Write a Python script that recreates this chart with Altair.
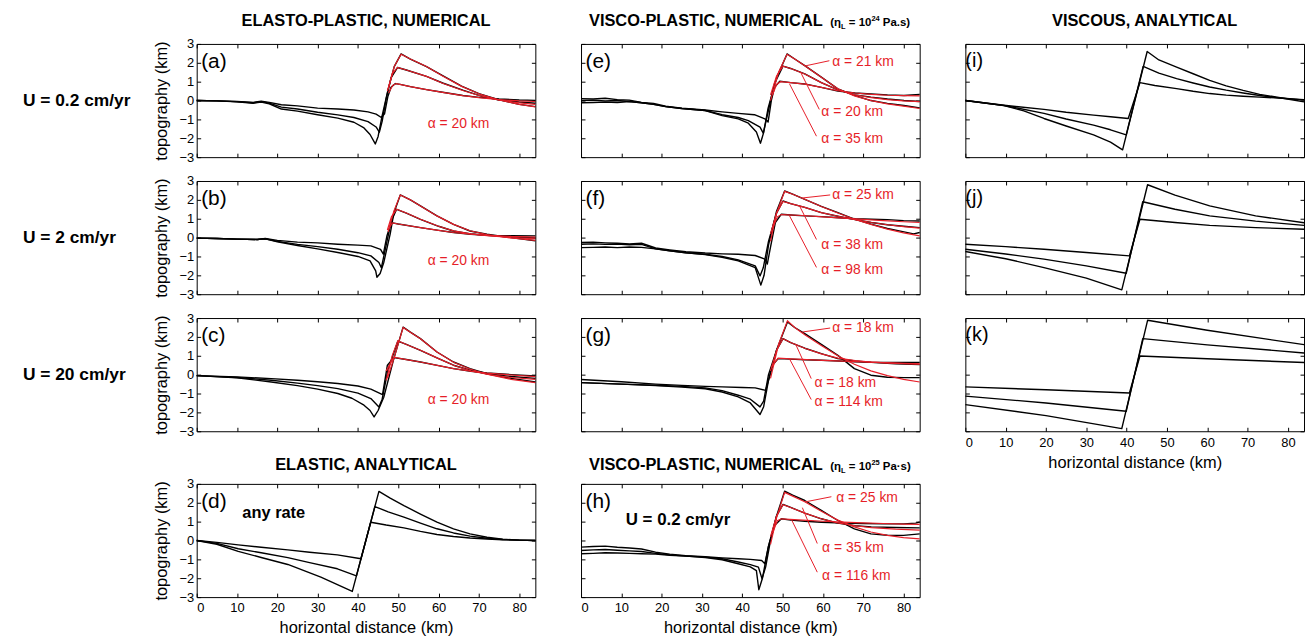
import altair as alt
import pandas as pd

FONT = "Liberation Sans"
RED = "#e61e28"
W, H = 341, 114
XMAX = 84
X_TICKS = [0, 10, 20, 30, 40, 50, 60, 70, 80]
Y_TICKS = [-3, -2, -1, 0, 1, 2, 3]
X_TITLE = "horizontal distance (km)"
Y_TITLE = "topography (km)"

ROW_LABELS = ["U = 0.2 cm/yr", "U = 2 cm/yr", "U = 20 cm/yr"]
TOP_TITLES = ["ELASTO-PLASTIC, NUMERICAL", "VISCO-PLASTIC, NUMERICAL", "VISCOUS, ANALYTICAL"]
LOW_TITLES = ["ELASTIC, ANALYTICAL", "VISCO-PLASTIC, NUMERICAL"]
ETA_E = ["(η", "L", "= 10", "24", "Pa.s)"]
ETA_H = ["(η", "L", "= 10", "25", "Pa·s)"]

# ---------------- panel (a) ----------------
A_X = [
    [0, 5, 10, 14, 16, 18, 21, 25, 30, 35, 39, 42.5, 44.5, 45.8, 46.6, 47.4, 48.2, 49.3, 50.5, 53, 57, 61, 66, 70, 75, 80, 84],
    [0, 5, 10, 14, 16, 18, 21, 25, 30, 35, 39, 42.5, 44.5, 45.3, 46, 47, 48.2, 49.8, 52, 57, 61, 66, 70, 75, 80, 84],
    [0, 5, 10, 14, 16, 18, 21, 25, 30, 35, 39, 41.5, 43, 44.3, 45, 46, 47.5, 49, 50.7, 53, 57, 61, 65.7, 70, 74.5, 80, 84]]
A_Y = [
    [0, -0.02, -0.05, -0.1, -0.04, -0.1, -0.22, -0.28, -0.4, -0.45, -0.5, -0.6, -0.72, -0.9, -0.7, 0.2, 0.7, 0.9, 0.86, 0.74, 0.58, 0.44, 0.27, 0.17, 0.08, 0.03, 0.01],
    [0, -0.02, -0.06, -0.12, -0.06, -0.14, -0.35, -0.45, -0.62, -0.76, -0.9, -1.12, -1.4, -1.68, -1.1, 0.1, 1.2, 1.75, 1.62, 1.28, 0.93, 0.55, 0.27, 0.03, -0.08, -0.14],
    [0, -0.02, -0.07, -0.14, -0.08, -0.17, -0.45, -0.56, -0.75, -0.93, -1.15, -1.45, -1.8, -2.3, -1.9, -0.8, 0.6, 1.8, 2.47, 2.2, 1.8, 1.32, 0.77, 0.37, 0.07, -0.2, -0.32]]
A_RX = [[47.6, 48.6, 49.5, 53, 57, 61, 66, 70, 75, 80, 84],
        [47.3, 48.5, 49.8, 52, 57, 61, 66, 70, 75, 80, 84],
        [47.5, 49, 50.7, 53, 57, 61, 65.7, 70, 74.5, 80, 84]]
A_RY = [[0.4, 0.8, 0.9, 0.74, 0.58, 0.43, 0.26, 0.15, 0.05, -0.02, -0.05],
        [0.5, 1.4, 1.76, 1.62, 1.28, 0.92, 0.53, 0.27, 0.03, -0.12, -0.2],
        [0.6, 1.8, 2.45, 2.2, 1.8, 1.3, 0.75, 0.36, 0.06, -0.2, -0.34]]

# ---------------- panel (b) ----------------
B_X = [
    [0, 5, 10, 15, 17, 20, 25, 30, 35, 40, 43.2, 45.6, 46.3, 47.2, 48.1, 48.6, 50, 55.5, 60, 63.7, 68, 72, 78, 84],
    [0, 5, 10, 15, 17, 20, 25, 30, 35, 40, 43.2, 45.2, 45.8, 47, 48.3, 49.6, 52, 55.5, 60, 63.7, 68, 72, 78, 84],
    [0, 5, 10, 15, 17, 20, 25, 30, 35, 40, 43, 44.4, 44.7, 45.5, 46.4, 48, 48.9, 50.5, 53, 55.5, 59.6, 63.7, 67.8, 72, 78, 84]]
B_Y = [
    [-0.03, -0.05, -0.08, -0.1, -0.05, -0.15, -0.24, -0.28, -0.35, -0.4, -0.44, -0.62, -0.88, 0.1, 0.7, 0.78, 0.72, 0.53, 0.38, 0.27, 0.18, 0.12, 0.1, 0.09],
    [-0.03, -0.05, -0.08, -0.1, -0.06, -0.2, -0.36, -0.48, -0.62, -0.8, -0.97, -1.32, -1.6, -0.4, 0.9, 1.5, 1.3, 0.97, 0.6, 0.35, 0.2, 0.12, 0.04, -0.02],
    [-0.03, -0.05, -0.08, -0.1, -0.07, -0.22, -0.42, -0.6, -0.79, -1.0, -1.23, -1.76, -2.1, -1.9, -1.32, 0.2, 1.3, 2.26, 2.0, 1.68, 1.15, 0.7, 0.35, 0.18, 0.0, -0.17]]
B_RX = [[47.5, 48.5, 50, 55.5, 60, 63.7, 68, 72, 78, 84],
        [47.3, 48.3, 49.6, 52, 55.5, 60, 63.7, 68, 72, 78, 84],
        [47.5, 48.9, 50.5, 53, 55.5, 59.6, 63.7, 67.8, 72, 78, 84]]
B_RY = [[0.4, 0.78, 0.72, 0.53, 0.38, 0.27, 0.18, 0.12, 0.06, 0.03],
        [0.4, 1.1, 1.5, 1.3, 0.97, 0.6, 0.36, 0.2, 0.1, 0.0, -0.06],
        [0.3, 1.4, 2.26, 2.0, 1.68, 1.15, 0.7, 0.36, 0.16, -0.02, -0.15]]

# ---------------- panel (c) ----------------
C_X = [
    [0, 10, 18.5, 25, 30, 35, 40, 43.2, 46.1, 47.3, 48.9, 52, 55.5, 60, 63.7, 68, 72, 78, 84],
    [0, 10, 18.5, 25, 30, 35, 40, 43.2, 45.2, 46, 47.5, 49.9, 52, 55.5, 60, 63.7, 68, 72, 78, 84],
    [0, 10, 18.5, 25, 30, 35, 38.5, 41.5, 43, 44, 45, 46.4, 48.9, 51.2, 53, 55.5, 59.6, 63.7, 67.8, 72, 78, 84]]
C_Y = [
    [-0.05, -0.12, -0.21, -0.3, -0.38, -0.47, -0.6, -0.77, -1.06, 0.5, 0.9, 0.8, 0.67, 0.48, 0.32, 0.18, 0.09, 0.0, -0.07],
    [-0.05, -0.15, -0.3, -0.45, -0.58, -0.74, -0.98, -1.27, -1.71, -1.3, 0.3, 1.78, 1.6, 1.29, 0.85, 0.5, 0.22, 0.05, -0.1, -0.2],
    [-0.05, -0.17, -0.39, -0.58, -0.77, -1.0, -1.25, -1.62, -1.9, -2.24, -1.9, -1.2, 0.85, 2.52, 2.25, 1.91, 1.2, 0.67, 0.32, 0.05, -0.2, -0.39]]
C_RX = [[47, 48.9, 52, 55.5, 60, 63.7, 68, 72, 78, 84],
        [47, 48.5, 49.9, 52, 55.5, 60, 63.7, 68, 72, 78, 84],
        [47.3, 48.9, 51.2, 53, 55.5, 59.6, 63.7, 67.8, 72, 78, 84]]
C_RY = [[0.2, 0.92, 0.8, 0.67, 0.48, 0.32, 0.18, 0.08, -0.02, -0.1],
        [-0.3, 1.0, 1.8, 1.6, 1.29, 0.85, 0.5, 0.2, 0.02, -0.15, -0.25],
        [-0.2, 0.85, 2.5, 2.25, 1.9, 1.2, 0.66, 0.3, 0.02, -0.25, -0.42]]

COL1_AX = [57.3]
A_AY, B_AY, C_AY = [-1.25], [-1.23], [-1.36]
COL1_AT = ["α = 20 km"]

# ---------------- panel (d) ----------------
D_X = [[0, 5, 10.3, 16, 22.6, 28, 34.9, 40.75, 43.17, 47, 51.4, 55.5, 59.6, 63.7, 67.8, 72, 75.9, 80, 84],
       [0, 5, 10.3, 16, 22.6, 28, 34.9, 39.63, 44.2, 47.5, 51.4, 55.5, 59.6, 63.7, 67.8, 72, 75.9, 80, 84],
       [0, 5, 10.3, 16, 22.6, 30.8, 38.6, 45.2, 48, 51.4, 55.5, 59.6, 63.7, 67.8, 72, 75.9, 80, 84]]
D_Y = [[0, -0.1, -0.23, -0.36, -0.5, -0.62, -0.76, -0.97, 0.97, 0.82, 0.67, 0.48, 0.32, 0.21, 0.13, 0.08, 0.04, 0.02, 0],
       [0, -0.15, -0.44, -0.65, -0.91, -1.17, -1.5, -1.87, 1.8, 1.52, 1.24, 0.92, 0.62, 0.4, 0.23, 0.12, 0.05, 0.02, 0],
       [0, -0.2, -0.58, -0.9, -1.27, -1.94, -2.7, 2.6, 2.25, 1.85, 1.4, 0.97, 0.62, 0.35, 0.17, 0.07, 0.02, 0]]

# ---------------- panel (e) ----------------
E_X = [
    [0, 3, 6, 9, 12, 15, 18, 21, 25, 30.8, 35, 39, 43, 45.6, 46.4, 47.2, 48, 49.3, 52, 55.5, 59.6, 63.7, 68, 71.9, 76, 80.1, 84],
    [0, 3, 6, 9, 12, 15, 18, 21, 25, 30.8, 35, 39, 41.5, 44.4, 45.2, 46.5, 48, 50.1, 52, 55.5, 59.6, 63.7, 68, 71.9, 76, 80.1, 84],
    [0, 3, 6, 9, 12, 15, 18, 21, 25, 30.8, 35, 39, 41.5, 43.5, 44.5, 45.3, 46.4, 48.5, 51.1, 53, 55.5, 59.6, 63.7, 67.8, 71.9, 76, 80.1, 84]]
E_Y = [
    [0.1, 0.08, 0.12, 0.05, 0.02, -0.1, -0.15, -0.3, -0.4, -0.5, -0.6, -0.68, -0.75, -0.97, -1.14, 0.0, 0.7, 1.02, 0.95, 0.88, 0.7, 0.5, 0.4, 0.35, 0.3, 0.27, 0.32],
    [0.0, 0.02, -0.02, 0.0, -0.05, -0.12, -0.2, -0.32, -0.42, -0.53, -0.75, -0.9, -1.06, -1.41, -1.73, -0.5, 0.9, 1.82, 1.7, 1.41, 0.95, 0.57, 0.3, 0.18, 0.08, 0.0, -0.05],
    [-0.12, -0.1, -0.08, -0.1, -0.05, -0.12, -0.2, -0.32, -0.42, -0.53, -0.8, -0.97, -1.2, -1.67, -2.26, -1.7, -0.4, 1.2, 2.47, 2.2, 1.85, 1.24, 0.62, 0.27, 0.0, -0.15, -0.26, -0.39]]
E_RX = [[47.5, 48.5, 49.5, 52, 55.5, 59.6, 63.7, 68, 72, 76, 80, 84],
        [47, 48.5, 50.1, 52, 55.5, 59.6, 63.7, 68, 72, 76, 80, 84],
        [47, 49, 51.1, 53, 55.5, 59.6, 63.7, 67.8, 72, 76, 80, 84]]
E_RY = [[0.3, 0.85, 1.0, 0.95, 0.87, 0.7, 0.52, 0.4, 0.33, 0.28, 0.26, 0.25],
        [0.3, 1.3, 1.82, 1.7, 1.41, 0.95, 0.57, 0.3, 0.15, 0.05, -0.02, -0.06],
        [0.0, 1.5, 2.45, 2.2, 1.85, 1.24, 0.62, 0.25, 0.0, -0.18, -0.3, -0.42]]
E_LX = [[61.6, 55.7], [59.1, 54.4], [58.4, 51.7]]
E_LY = [[2.11, 1.84], [-0.47, 1.53], [-1.89, 0.89]]
E_AX = [62.3, 59.6, 59.6]
E_AY = [2.05, -0.63, -2.05]
E_AT = ["α = 21 km", "α = 20 km", "α = 35 km"]

# ---------------- panel (f) ----------------
F_X = [
    [0, 3, 6, 9, 12, 15, 18.5, 22, 26, 30.8, 35, 39, 43.2, 45.6, 46.2, 47, 48.2, 49.7, 52, 55.5, 59.6, 64, 68, 72, 76, 80, 84],
    [0, 3, 6, 9, 12, 15, 18.5, 22, 26, 30.8, 35, 39, 43.2, 44.4, 45.2, 46.5, 48.5, 50.1, 52, 55.5, 59.6, 64, 68, 72, 76, 80, 84],
    [0, 3, 6, 9, 12, 15, 18.5, 22, 26, 30.8, 35, 39, 43.2, 44.6, 45.4, 46.5, 48.5, 50.5, 52.5, 55.5, 59.6, 63.7, 67.8, 71.9, 76, 80.1, 82.5, 84]]
F_Y = [
    [-0.26, -0.25, -0.28, -0.3, -0.33, -0.3, -0.55, -0.65, -0.75, -0.82, -0.86, -0.88, -0.95, -1.14, -1.4, -0.5, 0.8, 1.24, 1.2, 1.15, 1.11, 1.05, 1.0, 0.97, 0.95, 0.9, 0.88],
    [-0.35, -0.33, -0.36, -0.34, -0.38, -0.36, -0.6, -0.7, -0.8, -0.88, -1.0, -1.18, -1.5, -2.03, -1.6, -0.2, 1.3, 1.94, 1.8, 1.6, 1.32, 1.12, 0.95, 0.8, 0.68, 0.6, 0.53],
    [-0.53, -0.52, -0.5, -0.53, -0.5, -0.52, -0.6, -0.7, -0.8, -0.9, -1.05, -1.23, -1.59, -2.52, -2.0, -0.4, 1.4, 2.47, 2.3, 2.03, 1.65, 1.32, 0.98, 0.71, 0.48, 0.3, 0.2, 0.27]]
F_RX = [[47.5, 48.7, 49.7, 55, 60, 65, 70, 75, 80, 84],
        [47, 48.5, 50.1, 52, 55.5, 59.6, 64, 68, 72, 76, 80, 84],
        [47, 48.5, 50.5, 52.5, 55.5, 59.6, 63.7, 67.8, 71.9, 76, 80, 84]]
F_RY = [[0.5, 1.1, 1.22, 1.17, 1.1, 1.03, 0.97, 0.9, 0.84, 0.8],
        [0.2, 1.3, 1.92, 1.8, 1.6, 1.32, 1.12, 0.95, 0.8, 0.68, 0.58, 0.5],
        [-0.2, 1.3, 2.45, 2.3, 2.03, 1.65, 1.3, 0.97, 0.7, 0.45, 0.25, 0.09]]
F_LX = [[61.8, 54.9], [58.4, 54.2], [58.4, 51.7]]
F_LY = [[2.26, 2.1], [-0.1, 1.68], [-1.58, 1.16]]
F_AX = [62.3, 59.6, 59.6]
F_AY = [2.26, -0.37, -1.74]
F_AT = ["α = 25 km", "α = 38 km", "α = 98 km"]

# ---------------- panel (g) ----------------
G_X = [
    [0, 10, 18.5, 25, 30.8, 35, 40, 43.2, 45.8, 46.5, 47.5, 48.9, 52, 55.5, 59.6, 64, 68, 72, 78, 84],
    [0, 10, 18.5, 25, 30.8, 35, 39, 42, 44.4, 45.3, 46.5, 48.5, 50.1, 52, 55.5, 59.6, 63.7, 68, 72, 78, 84],
    [0, 10, 18.5, 25, 30.8, 35, 39, 42, 44.4, 45.3, 46.5, 48.5, 51.2, 53, 55.5, 59.6, 63.7, 67.8, 71.9, 76, 80, 84]]
G_Y = [
    [-0.26, -0.38, -0.5, -0.57, -0.62, -0.65, -0.68, -0.7, -0.83, -0.3, 0.5, 0.85, 0.82, 0.79, 0.76, 0.72, 0.68, 0.65, 0.64, 0.64],
    [-0.42, -0.5, -0.56, -0.62, -0.7, -0.85, -1.09, -1.3, -1.71, -1.4, 0.0, 1.3, 1.91, 1.7, 1.4, 1.11, 0.85, 0.72, 0.65, 0.58, 0.53],
    [-0.42, -0.5, -0.58, -0.66, -0.75, -0.92, -1.18, -1.5, -2.11, -1.7, -0.3, 1.3, 2.79, 2.5, 2.17, 1.6, 1.02, 0.32, -0.03, -0.14, -0.16, -0.16]]
G_RX = [[47.2, 48.9, 52, 56, 60, 65, 70, 75, 80, 84],
        [47, 48.5, 50.1, 52, 55.5, 59.6, 63.7, 68, 72, 78, 84],
        [47, 49, 51.2, 53, 55.5, 59.6, 63.7, 67.8, 71.9, 76, 80, 84]]
G_RY = [[0.4, 0.88, 0.84, 0.8, 0.76, 0.72, 0.68, 0.64, 0.6, 0.57],
        [0.2, 1.3, 1.9, 1.7, 1.4, 1.1, 0.88, 0.74, 0.66, 0.6, 0.56],
        [-0.2, 1.6, 2.85, 2.5, 2.12, 1.55, 1.0, 0.55, 0.2, -0.05, -0.25, -0.39]]
G_LX = [[61.8, 54.9], [57.1, 53.2], [57.1, 51.7]]
G_LY = [[2.47, 2.26], [-0.21, 1.63], [-1.32, 0.84]]
G_AX = [62.3, 57.9, 57.9]
G_AY = [2.47, -0.47, -1.47]
G_AT = ["α = 18 km", "α = 18 km", "α = 114 km"]

# ---------------- panel (h) ----------------
H_X = [
    [0, 3, 6, 9, 12, 15, 18.5, 22, 26, 30.8, 35, 39, 42, 44.8, 45.6, 46.5, 48, 49.7, 52, 55.5, 59.6, 65, 70, 75, 80, 83, 84],
    [0, 3, 6, 9, 12, 15, 18.5, 22, 26, 30.8, 35, 39, 42, 44, 44.9, 45.8, 47, 48.5, 50.1, 52, 55.5, 59.6, 63.7, 68, 72, 78, 84],
    [0, 3, 6, 9, 12, 15, 18.5, 22, 26, 30.8, 35, 39, 42, 43.5, 44.1, 45, 46.5, 48.5, 50.5, 52.5, 55.5, 59.6, 63.7, 67.8, 71.9, 76, 80, 84]]
H_Y = [
    [-0.35, -0.32, -0.3, -0.36, -0.4, -0.45, -0.62, -0.72, -0.8, -0.86, -0.92, -0.97, -1.0, -1.06, -1.23, -0.3, 0.8, 1.15, 1.08, 1.02, 0.97, 0.92, 0.9, 0.88, 0.88, 0.92, 0.97],
    [-0.53, -0.5, -0.48, -0.52, -0.55, -0.58, -0.68, -0.76, -0.82, -0.88, -0.97, -1.14, -1.28, -1.41, -2.03, -1.4, 0.0, 1.3, 1.91, 1.75, 1.45, 1.15, 0.92, 0.78, 0.72, 0.69, 0.67],
    [-0.7, -0.68, -0.65, -0.66, -0.68, -0.7, -0.72, -0.78, -0.83, -0.9, -1.02, -1.23, -1.4, -1.6, -2.61, -2.0, -0.3, 1.3, 2.61, 2.4, 2.12, 1.6, 1.06, 0.62, 0.35, 0.28, 0.27, 0.35]]
H_RX = [[47.5, 48.7, 49.7, 55, 60, 65, 70, 75, 80, 84],
        [47, 48.5, 50.1, 52, 55.5, 59.6, 63.7, 68, 72, 78, 84],
        [47, 48.5, 50.5, 52.5, 55.5, 59.6, 63.7, 67.8, 71.9, 76, 80, 84]]
H_RY = [[0.4, 1.05, 1.15, 1.08, 1.02, 0.97, 0.93, 0.9, 0.87, 0.85],
        [0.2, 1.3, 1.9, 1.75, 1.45, 1.15, 0.93, 0.78, 0.68, 0.6, 0.55],
        [-0.2, 1.2, 2.55, 2.35, 2.05, 1.55, 1.08, 0.72, 0.45, 0.27, 0.15, 0.09]]
H_LX = [[62.1, 55.7], [58.6, 54.9], [58.6, 52.2]]
H_LY = [[2.32, 2.05], [-0.16, 1.74], [-1.68, 1.11]]
H_AX = [63.3, 59.8, 59.8]
H_AY = [2.26, -0.42, -1.89]
H_AT = ["α = 25 km", "α = 35 km", "α = 116 km"]

# ---------------- panels (i), (j), (k) ----------------
I_X = [[0, 9.6, 19.5, 25, 31.8, 36, 40.4, 43.3, 47, 52.4, 56.5, 60.6, 64.7, 68.9, 73, 77, 81, 84],
       [0, 9.6, 19.5, 25, 31.8, 36, 39.9, 44.1, 48, 52.4, 56.5, 60.6, 64.7, 68.9, 73, 77, 81, 84],
       [0, 9.6, 14.5, 19.5, 25, 31.8, 36, 39.0, 45.1, 48, 52.4, 56.5, 60.6, 64.7, 68.9, 73, 77, 81, 84]]
I_Y = [[0, -0.25, -0.47, -0.62, -0.77, -0.86, -0.95, 0.95, 0.8, 0.63, 0.49, 0.37, 0.29, 0.23, 0.18, 0.14, 0.08, 0.02],
       [0, -0.26, -0.68, -0.98, -1.3, -1.55, -1.82, 1.81, 1.45, 1.16, 0.93, 0.72, 0.55, 0.4, 0.27, 0.16, 0.09, 0.05],
       [0, -0.27, -0.55, -0.95, -1.35, -1.82, -2.2, -2.61, 2.6, 2.15, 1.77, 1.42, 1.07, 0.78, 0.54, 0.33, 0.19, 0.04, -0.07]]
J_X = [[0, 10, 19.5, 30, 40.7, 43.3, 52, 60.6, 72, 84],
       [0, 10, 19.5, 30, 39.9, 44.0, 52, 60.6, 72, 84],
       [0, 10, 19.5, 30, 38.8, 45.2, 52, 60.6, 72, 84]]
J_Y = [[-0.35, -0.48, -0.62, -0.79, -0.97, 0.97, 0.8, 0.65, 0.53, 0.44],
       [-0.62, -0.87, -1.14, -1.5, -1.89, 1.9, 1.5, 1.15, 0.87, 0.65],
       [-0.74, -1.12, -1.59, -2.15, -2.77, 2.8, 2.25, 1.68, 1.15, 0.79]]
K_X = [[0, 20, 40.7, 43.3, 60, 84],
       [0, 20, 39.9, 44.0, 60, 84],
       [0, 20, 38.8, 45.2, 60, 84]]
K_Y = [[-0.65, -0.8, -0.97, 0.99, 0.84, 0.64],
       [-1.14, -1.5, -1.94, 1.91, 1.58, 1.15],
       [-1.59, -2.17, -2.86, 2.88, 2.35, 1.59]]

# ---------------- helpers ----------------
XS = alt.Scale(domain=[0, XMAX], nice=False, zero=False)
YS = alt.Scale(domain=[-3, 3], nice=False, zero=False)


def lines_df(xss, yss):
    rows = []
    for c, (xs, ys) in enumerate(zip(xss, yss)):
        for o, (x, y) in enumerate(zip(xs, ys)):
            rows.append({"x": x, "y": y, "c": c, "o": o})
    return pd.DataFrame(rows)


def x_axis(show):
    if show:
        return alt.Axis(values=X_TICKS, orient="bottom", offset=-4, tickSize=4, domain=False,
                        grid=False, labels=True, labelPadding=5, title=X_TITLE, titlePadding=5)
    return alt.Axis(values=X_TICKS, orient="bottom", offset=-4, tickSize=4, domain=False,
                    grid=False, labels=False, title=None)


def y_axis(show):
    if show:
        return alt.Axis(values=Y_TICKS, orient="left", offset=-4, tickSize=4, domain=False,
                        grid=False, labels=True, labelPadding=3, title=Y_TITLE, titlePadding=10)
    return alt.Axis(values=Y_TICKS, orient="left", offset=-4, tickSize=4, domain=False,
                    grid=False, labels=False, title=None)


def pt(text, x, y, size, weight="normal", color="black", align="left", baseline="alphabetic"):
    return alt.Chart(pd.DataFrame({"t": [text]})).mark_text(
        align=align, baseline=baseline, fontSize=size, fontWeight=weight, font=FONT, color=color
    ).encode(x=alt.value(x), y=alt.value(y), text="t:N")


def eta_title(parts, yb):
    xs = [251, 261.9, 269.7, 292.4, 303.9]
    sizes = [11.5, 7.5, 11.5, 7.5, 11.5]
    dys = [0, 3, 0, -5, 0]
    return [pt(p, x, yb + dy, s, "bold") for p, x, s, dy in zip(parts, xs, sizes, dys)]


def panel(bx, by, letter, letter_x, rx=None, ry=None, lx=None, ly=None,
          ax=None, ay=None, at=None, show_x=False, show_y=False, extra=()):
    bdf = lines_df(bx, by)
    layers = [
        alt.Chart(bdf).mark_line(color="black", strokeWidth=1.4, strokeJoin="round").encode(
            x=alt.X("x:Q", scale=XS, axis=x_axis(show_x)),
            y=alt.Y("y:Q", scale=YS, axis=y_axis(show_y)),
            detail="c:N", order="o:Q"),
        alt.Chart(bdf).mark_line(opacity=0).encode(
            x=alt.X("x:Q", scale=XS, axis=alt.Axis(values=X_TICKS, orient="top", offset=-4, tickSize=4,
                                                   domain=False, grid=False, labels=False, title=None)),
            y=alt.Y("y:Q", scale=YS, axis=alt.Axis(values=Y_TICKS, orient="right", offset=-4, tickSize=4,
                                                   domain=False, grid=False, labels=False, title=None)),
            detail="c:N", order="o:Q"),
    ]
    if rx is not None:
        layers.append(alt.Chart(lines_df(rx, ry)).mark_line(color=RED, strokeWidth=1.2).encode(
            x=alt.X("x:Q", scale=XS, axis=None), y=alt.Y("y:Q", scale=YS, axis=None),
            detail="c:N", order="o:Q"))
    if lx is not None:
        layers.append(alt.Chart(lines_df(lx, ly)).mark_line(color=RED, strokeWidth=1).encode(
            x=alt.X("x:Q", scale=XS, axis=None), y=alt.Y("y:Q", scale=YS, axis=None),
            detail="c:N", order="o:Q"))
    if ax is not None:
        adf = pd.DataFrame({"x": ax, "y": ay, "t": at})
        layers.append(alt.Chart(adf).mark_text(align="left", baseline="middle", fontSize=14,
                                               font=FONT, color=RED).encode(
            x=alt.X("x:Q", scale=XS, axis=None), y=alt.Y("y:Q", scale=YS, axis=None), text="t:N"))
    layers.append(pt("(" + letter + ")", letter_x, 24 if letter_x > 1 else 23, 21 if letter_x > 1 else 20))
    layers.extend(extra)
    return alt.layer(*layers).resolve_axis(x="independent", y="independent").properties(width=W, height=H)


TOP_YB = -18
LOW_YB = -14
ROW_X = -175
ROW_YB = 62
LAB = 17.5
TT = 16.5

pa = panel(A_X, A_Y, "a", 4.5, A_RX, A_RY, ax=COL1_AX, ay=A_AY, at=COL1_AT, show_y=True,
           extra=[pt(TOP_TITLES[0], W / 2, TOP_YB, TT, "bold", align="center"),
                  pt(ROW_LABELS[0], ROW_X, ROW_YB, LAB, "bold")])
pb = panel(B_X, B_Y, "b", 4.5, B_RX, B_RY, ax=COL1_AX, ay=B_AY, at=COL1_AT, show_y=True,
           extra=[pt(ROW_LABELS[1], ROW_X, ROW_YB, LAB, "bold")])
pc = panel(C_X, C_Y, "c", 4.5, C_RX, C_RY, ax=COL1_AX, ay=C_AY, at=COL1_AT, show_y=True,
           extra=[pt(ROW_LABELS[2], ROW_X, ROW_YB, LAB, "bold")])
pd_ = panel(D_X, D_Y, "d", 4.5, show_x=True, show_y=True,
            extra=[pt(LOW_TITLES[0], W / 2, LOW_YB, TT, "bold", align="center"),
                   pt("any rate", 46, 34, 16.5, "bold")])
pe = panel(E_X, E_Y, "e", 4.5, E_RX, E_RY, E_LX, E_LY, E_AX, E_AY, E_AT,
           extra=[pt(TOP_TITLES[1], 8, TOP_YB, TT, "bold")] + eta_title(ETA_E, TOP_YB))
pf = panel(F_X, F_Y, "f", 4.5, F_RX, F_RY, F_LX, F_LY, F_AX, F_AY, F_AT)
pg = panel(G_X, G_Y, "g", 4.5, G_RX, G_RY, G_LX, G_LY, G_AX, G_AY, G_AT)
ph = panel(H_X, H_Y, "h", 4.5, H_RX, H_RY, H_LX, H_LY, H_AX, H_AY, H_AT, show_x=True,
           extra=[pt(LOW_TITLES[1], 8, LOW_YB, TT, "bold")] + eta_title(ETA_H, LOW_YB)
           + [pt(ROW_LABELS[0], 45, 41, 17, "bold")])
pi = panel(I_X, I_Y, "i", 0,
           extra=[pt(TOP_TITLES[2], W / 2 + 10, TOP_YB, TT, "bold", align="center")])
pj = panel(J_X, J_Y, "j", 0)
pk = panel(K_X, K_Y, "k", 0, show_x=True)

spacer = alt.Chart(pd.DataFrame({"v": [0]})).mark_point(opacity=0).encode(
    x=alt.value(0), y=alt.value(0)
).properties(width=W, height=5, view=alt.ViewBackground(stroke="transparent"))

chart = alt.concat(
    pa, pe, pi, pb, pf, pj, pc, pg, pk, spacer, spacer, spacer, pd_, ph,
    columns=3, spacing={"row": 24, "column": 46}, bounds="flush", align="each"
).properties(
    padding={"left": 14, "top": 2, "right": 0, "bottom": 0}
).configure_view(
    stroke="black", strokeWidth=1
).configure_axis(
    labelFont=FONT, titleFont=FONT, labelFontSize=13, titleFontSize=16.5,
    labelColor="black", titleColor="black", tickColor="black", tickWidth=1,
    titleFontWeight="normal", labelFontWeight="normal"
)

chart.save("out.html", embed_options={"renderer": "svg", "actions": False})
